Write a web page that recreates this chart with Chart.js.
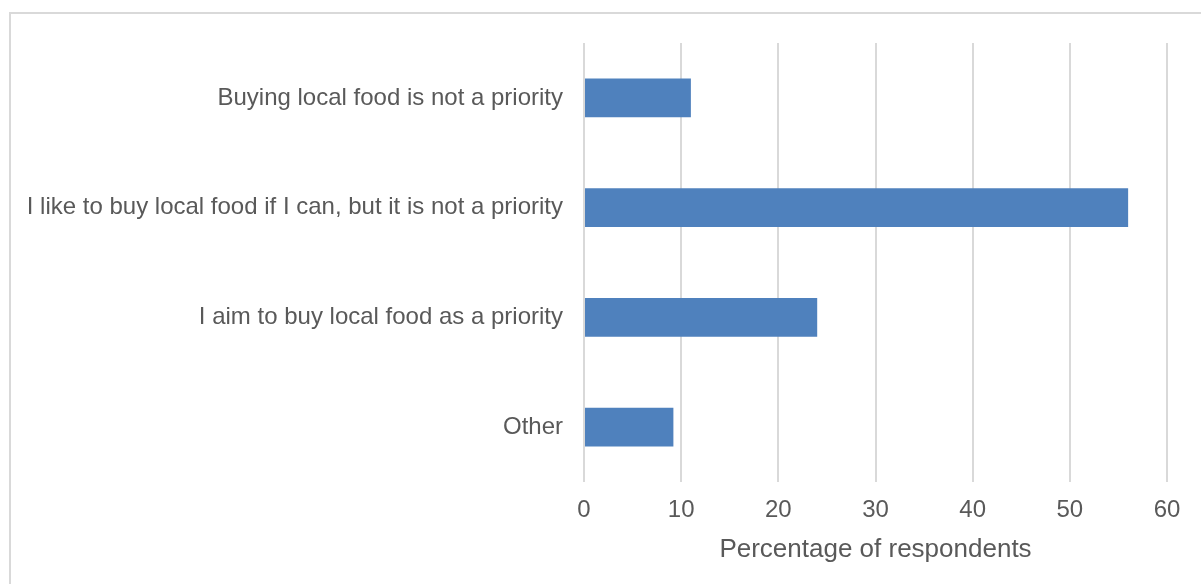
<!DOCTYPE html>
<html>
<head>
<meta charset="utf-8">
<script src="https://cdn.jsdelivr.net/npm/chart.js@4"></script>
<style>
  html, body { margin: 0; padding: 0; background: #fff; overflow: hidden; }
  #frame { position: absolute; left: 9px; top: 12px; width: 1300px; height: 700px; border: 2px solid #d9d9d9; }
  #chart { position: absolute; left: 0; top: 0; }
</style>
</head>
<body>
<div id="frame"></div>
<canvas id="chart" width="1201" height="584"></canvas>
<script>
const categories = [
  "Buying local food is not a priority",
  "I like to buy local food if I can, but it is not a priority",
  "I aim to buy local food as a priority",
  "Other"
];
const percentages = [11, 56, 24, 9.2];
const xTicks = [0, 10, 20, 30, 40, 50, 60];
const axisTitle = "Percentage of respondents";

const textColor = "#595959";
const family = "Arial, 'Liberation Sans', sans-serif";

const ctx = document.getElementById("chart").getContext("2d");
new Chart(ctx, {
  type: "bar",
  data: {
    labels: categories,
    datasets: [{
      data: percentages,
      backgroundColor: "#4f81bd",
      borderWidth: 0,
      barPercentage: 0.355,
      categoryPercentage: 1
    }]
  },
  options: {
    indexAxis: "y",
    responsive: false,
    animation: false,
    layout: { padding: { top: 43, right: 34, left: 0, bottom: 0 } },
    plugins: { legend: { display: false }, tooltip: { enabled: false } },
    scales: {
      x: {
        min: 0,
        max: 60,
        afterBuildTicks: s => { s.ticks = xTicks.map(v => ({ value: v })); },
        afterFit: s => { s.height = 102; },
        grid: { color: "#d9d9d9", lineWidth: 2, drawTicks: false },
        border: { display: false },
        ticks: { color: textColor, padding: 14, font: { family, size: 24 } },
        title: {
          display: true,
          text: axisTitle,
          color: textColor,
          font: { family, size: 26 },
          padding: { top: 0, bottom: 19 }
        }
      },
      y: {
        afterFit: s => { s.width = 584; },
        grid: { display: false, drawTicks: false },
        border: { display: false },
        ticks: { color: textColor, padding: 21, font: { family, size: 24 } }
      }
    }
  }
});
</script>
</body>
</html>
